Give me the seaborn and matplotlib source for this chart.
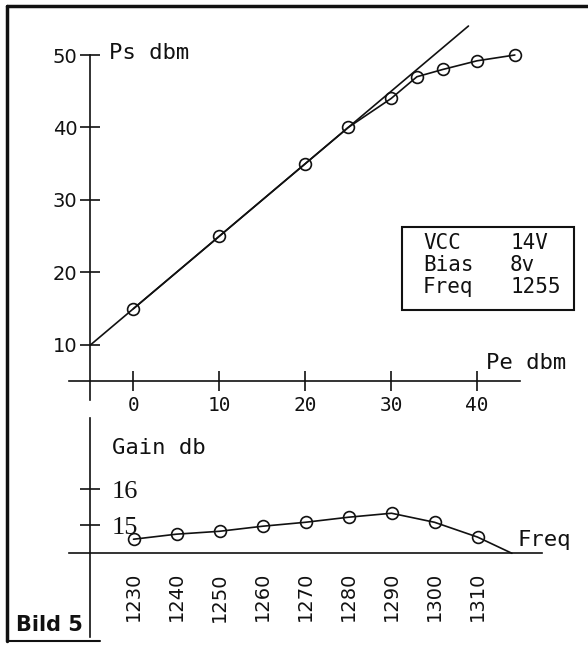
import matplotlib
matplotlib.use('Agg')
import matplotlib.pyplot as plt
from matplotlib.lines import Line2D
from matplotlib.patches import Rectangle
import seaborn as sns

# --- data ---
# power curve (input Pe dbm -> output Ps dbm)
pe_in = [0, 10, 20, 25, 30, 33, 36, 40, 44.4]
ps_out = [15, 25, 35, 40, 44, 47, 48, 49.2, 50]

# ideal linear gain line
lin_pe = [-5, 39]
lin_ps = [10, 54]

# gain vs. frequency (last point is where the line meets the axis, no marker)
freq = [1230, 1240, 1250, 1260, 1270, 1280, 1290, 1300, 1310, 1318]
gain = [14.61, 14.75, 14.83, 14.97, 15.08, 15.22, 15.33, 15.08, 14.67, 14.22]
n_measured = 9

ps_ticks = [10, 20, 30, 40, 50]
pe_ticks = [0, 10, 20, 30, 40]
gain_ticks = [15, 16]
freq_ticks = [1230, 1240, 1250, 1260, 1270, 1280, 1290, 1300, 1310]

box_keys = ["VCC", "Bias", "Freq"]
box_vals = ["14V", "8v", "1255"]

INK = '#111111'
MONO = 'DejaVu Sans Mono'

sns.set_theme(style="white")
plt.rcParams['font.family'] = ['DejaVu Sans']

fig = plt.figure(figsize=(5.88, 6.46), dpi=100)

# ---------------- top: Ps vs Pe ----------------
ax = fig.add_axes([69 / 588, 1 - 400 / 646, 451 / 588, 345 / 646])
ax.set_facecolor('none')
ax.set_xlim(-7.5, 45)
ax.set_ylim(2.4, 50)

sns.lineplot(x=lin_pe, y=lin_ps, ax=ax, color=INK, linewidth=1.2,
             sort=False, clip_on=False)
sns.lineplot(x=pe_in, y=ps_out, ax=ax, color=INK, linewidth=1.2,
             marker='o', markersize=8.5, markerfacecolor='none',
             markeredgecolor=INK, markeredgewidth=1.2, clip_on=False)

for s in ['top', 'right']:
    ax.spines[s].set_visible(False)
ax.spines['left'].set_position(('data', -5))
ax.spines['bottom'].set_position(('data', 5))
for s in ['left', 'bottom']:
    ax.spines[s].set_color(INK)
    ax.spines[s].set_linewidth(1.2)

ax.set_yticks(ps_ticks)
ax.set_xticks(pe_ticks)
ax.tick_params(axis='both', direction='inout', length=15, width=1.2,
               color=INK, labelcolor=INK, left=True, bottom=True)
ax.tick_params(axis='y', pad=2, labelsize=14)
ax.tick_params(axis='x', pad=3, labelsize=14)
for lab in ax.get_xticklabels():
    lab.set_fontfamily(MONO)
ax.set_xlabel('')
ax.set_ylabel('')

ax.text(-2.8, 50.3, "Ps dbm", family=MONO, fontsize=16, color=INK,
        ha='left', va='center', clip_on=False)
ax.text(41, 7.5, "Pe dbm", family=MONO, fontsize=16, color=INK,
        ha='left', va='center', clip_on=False)

# parameter box
ax.add_patch(Rectangle((0.738, 0.261), 0.381, 0.240, transform=ax.transAxes,
                       fill=False, edgecolor=INK, linewidth=1.5, clip_on=False))
for i, (k, v) in enumerate(zip(box_keys, box_vals)):
    yy = 0.455 - i * 0.064
    ax.text(0.785, yy, k, transform=ax.transAxes, family=MONO, fontsize=15,
            color=INK, ha='left', va='center')
    ax.text(0.978, yy, v, transform=ax.transAxes, family=MONO, fontsize=15,
            color=INK, ha='left', va='center', clip_on=False)

# ---------------- bottom: gain vs frequency ----------------
bx = fig.add_axes([69 / 588, 9 / 646, 473 / 588, 219 / 646])
bx.set_facecolor('none')
bx.set_xlim(1215, 1325)
bx.set_ylim(11.9, 17.97)

sns.lineplot(x=freq, y=gain, ax=bx, color=INK, linewidth=1.2,
             marker='o', markersize=8.5, markerfacecolor='none',
             markeredgecolor=INK, markeredgewidth=1.2,
             markevery=list(range(n_measured)))

for s in ['top', 'left']:
    bx.spines[s].set_visible(False)
bx.spines['right'].set_position(('data', 1220))
bx.spines['bottom'].set_position(('data', 14.22))
for s in ['right', 'bottom']:
    bx.spines[s].set_color(INK)
    bx.spines[s].set_linewidth(1.2)

bx.yaxis.tick_right()
bx.set_yticks(gain_ticks)
bx.set_xticks(freq_ticks)
bx.tick_params(axis='both', direction='inout', length=15, width=1.2,
               color=INK, labelcolor=INK)
bx.tick_params(axis='y', pad=8, labelsize=19)
bx.tick_params(axis='x', pad=6, labelsize=14, labelrotation=90)
for lab in bx.get_yticklabels():
    lab.set_fontfamily('Liberation Serif')
bx.set_xlabel('')
bx.set_ylabel('')

bx.text(1224.9, 17.14, "Gain db", family=MONO, fontsize=16, color=INK,
        ha='left', va='center')
bx.text(1319.3, 14.58, "Freq", family=MONO, fontsize=16, color=INK,
        ha='left', va='center', clip_on=False)

# ---------------- page frame and caption ----------------
fig.add_artist(Line2D([7 / 588, 7 / 588], [5 / 646, 1 - 6 / 646],
                      transform=fig.transFigure, color=INK, linewidth=2.5))
fig.add_artist(Line2D([7 / 588, 1.0], [1 - 6 / 646, 1 - 6 / 646],
                      transform=fig.transFigure, color=INK, linewidth=2.5))
fig.add_artist(Line2D([7 / 588, 100 / 588], [5 / 646, 5 / 646],
                      transform=fig.transFigure, color=INK, linewidth=1.5))
fig.text(49 / 588, 21 / 646, "Bild 5", fontsize=15, fontweight='heavy',
         color=INK, ha='center', va='center')

fig.savefig("out.png", dpi=100, facecolor='white')
plt.close(fig)
